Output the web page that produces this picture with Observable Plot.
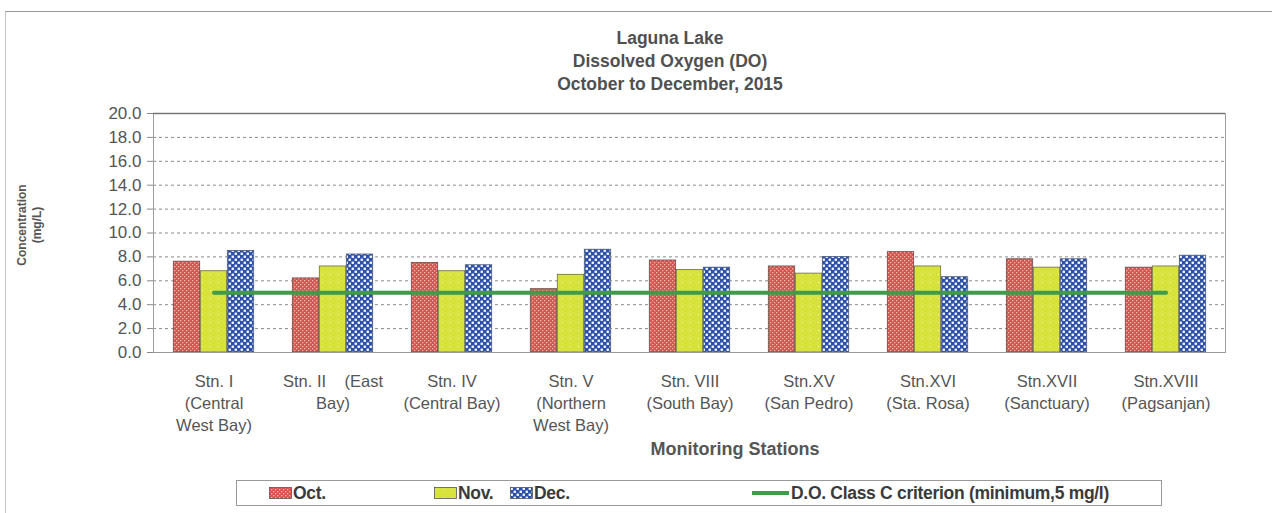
<!DOCTYPE html>
<html>
<head>
<meta charset="utf-8">
<script src="https://cdn.jsdelivr.net/npm/d3@7"></script>
<script src="https://cdn.jsdelivr.net/npm/@observablehq/plot@0.6"></script>
<style>
  body { margin: 0; background: #fff; font-family: "Liberation Sans", Arial, sans-serif; }
  #wrap { position: relative; width: 1273px; height: 513px; overflow: hidden; }
  #wrap > * { position: absolute; }
  .frame { left: 5px; top: 11px; width: 1266px; height: 510px; border-top: 1.5px solid #9a9a9a; border-left: 1.5px solid #c4c4c4; }
  .title { left: 420px; width: 500px; top: 27px; text-align: center; font-weight: bold; font-size: 17.5px; line-height: 23px; color: #505050; }
  .ylabel { left: 30px; top: 225px; transform: translate(-50%, -50%) rotate(-90deg); text-align: center; font-size: 12px; font-weight: bold; line-height: 15px; color: #555; white-space: nowrap; }
  .xlabel { left: 735px; top: 439px; transform: translateX(-50%); font-size: 18px; font-weight: bold; color: #555; white-space: nowrap; }
  .legend { left: 236px; top: 480px; width: 926px; height: 26px; border: 1.5px solid #999; box-sizing: border-box; font-size: 17.5px; font-weight: bold; color: #3a3a3a; }
  .legend .item { position: absolute; top: 3px; display: flex; align-items: center; height: 18px; letter-spacing: -0.3px; }
  .legend svg { margin-right: 1px; }
</style>
</head>
<body>
<div id="wrap">
  <div class="frame"></div>
  <div class="title">Laguna Lake<br>Dissolved Oxygen (DO)<br>October to December, 2015</div>
  <div class="ylabel">Concentration<br>(mg/L)</div>
  <div id="chart" style="left:0;top:0"></div>
  <div class="xlabel">Monitoring Stations</div>
  <div class="legend" id="legend"></div>
</div>
<script>
// ---- data ----
const stations = ["Stn. I", "Stn. II", "Stn. IV", "Stn. V", "Stn. VIII", "Stn.XV", "Stn.XVI", "Stn.XVII", "Stn.XVIII"];
const tickLabels = [
  "Stn. I\n(Central\nWest Bay)",
  "Stn. II    (East\nBay)",
  "Stn. IV\n(Central Bay)",
  "Stn. V\n(Northern\nWest Bay)",
  "Stn. VIII\n(South Bay)",
  "Stn.XV\n(San Pedro)",
  "Stn.XVI\n(Sta. Rosa)",
  "Stn.XVII\n(Sanctuary)",
  "Stn.XVIII\n(Pagsanjan)"
];
const months = ["Oct.", "Nov.", "Dec."];
const octValues = [7.6, 6.2, 7.5, 5.3, 7.7, 7.2, 8.4, 7.8, 7.1];
const novValues = [6.8, 7.2, 6.8, 6.5, 6.9, 6.6, 7.2, 7.1, 7.2];
const decValues = [8.5, 8.2, 7.3, 8.6, 7.1, 8.0, 6.3, 7.8, 8.1];
const criterion = 5;
const criterionLabel = "D.O. Class C criterion (minimum,5 mg/l)";
const yTicks = [0, 2, 4, 6, 8, 10, 12, 14, 16, 18, 20];

// ---- layout ----
const W = 1273, H = 513;
const mL = 153, mR = 48, mT = 113, mB = 161;
const bandW = (W - mL - mR) / stations.length;
const barW = 26.5, groupW = 3 * barW + 1;
const lead = (bandW - groupW) / 2;
function insets(k) {
  const left = lead + k * (barW + 0.5);
  return { insetLeft: left, insetRight: bandW - left - barW };
}

const rows = (vals) => stations.map((s, i) => ({ station: s, value: vals[i] }));
const criterionRows = stations.map(s => ({ station: s, value: criterion }));

const chart = Plot.plot({
  width: W, height: H,
  marginLeft: mL, marginRight: mR, marginTop: mT, marginBottom: mB,
  style: { fontFamily: "'Liberation Sans', Arial, sans-serif", color: "#444", background: "transparent" },
  x: { domain: stations, padding: 0, label: null },
  y: { domain: [0, 20], label: null },
  marks: [
    Plot.ruleY(yTicks.filter(t => t > 0 && t < 20), { stroke: "#8a8a8a", strokeDasharray: "3,3", strokeWidth: 1 }),
    Plot.frame({ stroke: "#a0a0a0" }),
    Plot.ruleY([20], { stroke: "#777", strokeWidth: 1.3 }),
    Plot.axisY({ ticks: yTicks, tickFormat: d => d.toFixed(1), tickSize: 6, tickPadding: 6, fontSize: 17, stroke: "#888", color: "#555" }),
    Plot.axisX({ tickSize: 0, tickPadding: 19, fontSize: 16.5, lineHeight: 1.33, tickFormat: (d, i) => tickLabels[i], color: "#555" }),
    Plot.barY(rows(octValues), { x: "station", y: "value", fill: "url(#patOct)", stroke: "#6a4a4a", strokeWidth: 0.8, ...insets(0) }),
    Plot.barY(rows(novValues), { x: "station", y: "value", fill: "url(#patNov)", stroke: "#6b6b40", strokeWidth: 0.8, ...insets(1) }),
    Plot.barY(rows(decValues), { x: "station", y: "value", fill: "url(#patDec)", stroke: "#4a5a7a", strokeWidth: 0.8, ...insets(2) }),
    Plot.lineY(criterionRows, { x: "station", y: "value", stroke: "#3f9a4a", strokeWidth: 4 }),
    Plot.ruleY([0], { stroke: "#999" })
  ]
});

// patterns
const defs = `
<defs>
  <pattern id="patOct" width="4" height="4" patternUnits="userSpaceOnUse">
    <rect width="4" height="4" fill="#d9534e"/>
    <rect x="0" y="0" width="1.3" height="1.3" fill="#f2b7b2"/>
    <rect x="2" y="2" width="1.3" height="1.3" fill="#f2b7b2"/>
  </pattern>
  <pattern id="patNov" width="8" height="8" patternUnits="userSpaceOnUse">
    <rect width="8" height="8" fill="#d8e23c"/>
    <rect x="2" y="2" width="1" height="1" fill="#f3f7b8"/>
  </pattern>
  <pattern id="patDec" width="6" height="6" patternUnits="userSpaceOnUse">
    <rect width="6" height="6" fill="#2d51a8"/>
    <rect x="0.6" y="0.6" width="2.3" height="2.3" fill="#ffffff"/>
    <rect x="3.6" y="3.6" width="2.3" height="2.3" fill="#ffffff"/>
  </pattern>
</defs>`;
chart.insertAdjacentHTML("afterbegin", defs);
document.getElementById("chart").appendChild(chart);

// legend
const legend = document.getElementById("legend");
const legendItems = [
  { label: months[0], fill: "url(#patOct)", left: 32 },
  { label: months[1], fill: "url(#patNov)", left: 197 },
  { label: months[2], fill: "url(#patDec)", left: 273 },
];
legendItems.forEach(it => {
  const d = document.createElement("div");
  d.className = "item";
  d.style.left = it.left + "px";
  d.innerHTML = `<svg width="23" height="12"><rect x="0.5" y="0.5" width="22" height="11" fill="${it.fill}" stroke="#555" stroke-width="0.8"/></svg>${it.label}`;
  legend.appendChild(d);
});
const li = document.createElement("div");
li.className = "item";
li.style.left = "515px";
li.innerHTML = `<svg width="38" height="12"><line x1="0" x2="37" y1="6" y2="6" stroke="#3f9a4a" stroke-width="4"/></svg>${criterionLabel}`;
legend.appendChild(li);
</script>
</body>
</html>
